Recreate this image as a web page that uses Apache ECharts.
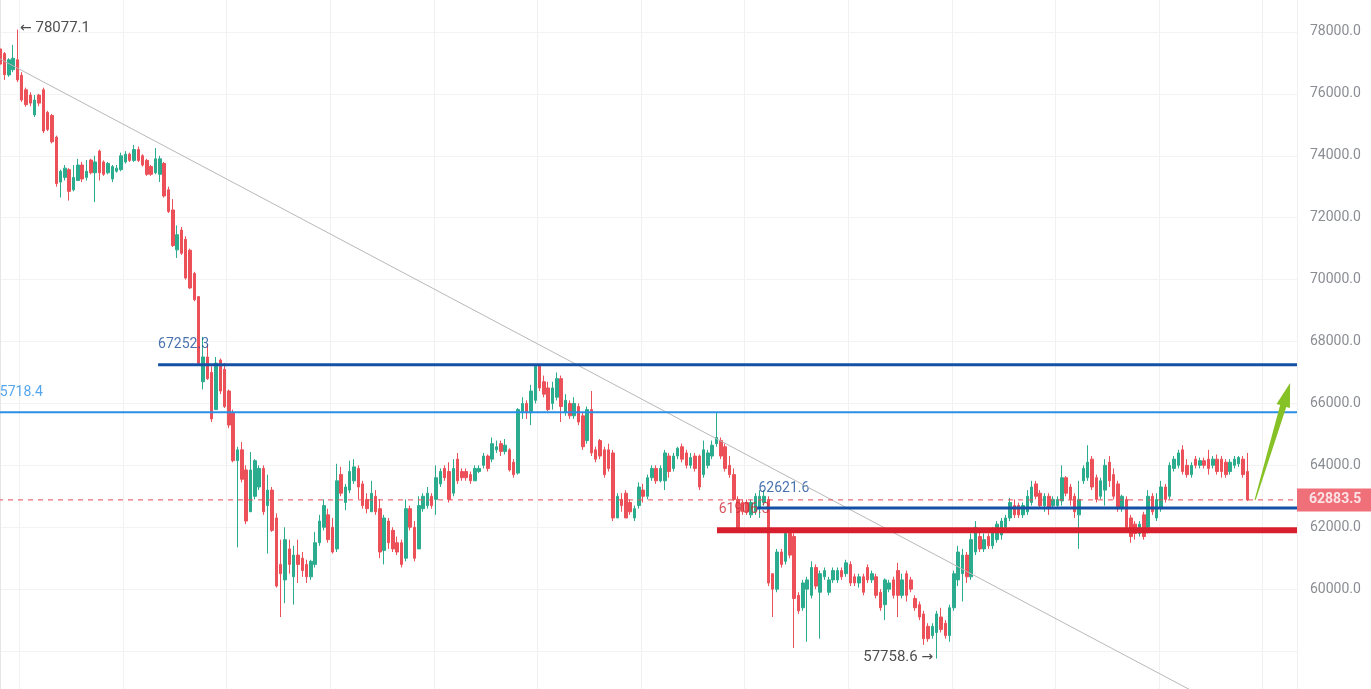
<!DOCTYPE html>
<html lang="en">
<head>
<meta charset="UTF-8">
<title>BTC</title>
<script src="https://cdn.jsdelivr.net/npm/echarts@6/dist/echarts.min.js"></script>
<style>
  html, body { margin: 0; padding: 0; background: #fff; }
  #main { width: 1371px; height: 689px; }
</style>
</head>
<body>
<div id="main"></div>
<script>
// свечи: open / close / low / high
const opens = [
  77450, 77300, 76610, 76780, 77100, 76600, 76130, 75960, 75320, 75960,
  76130, 75400, 75300, 74600, 73150, 73300, 73550, 72900, 73200, 73700,
  73300, 73860, 73450, 74150, 73800, 73450, 73250, 73500, 73550, 73800,
  74050, 73850, 74200, 74000, 73850, 73650, 73450, 73400, 73750, 72900,
  72250, 70960, 71600, 71300, 70950, 70200, 69450, 66700, 67500, 67000,
  65800, 67400, 67100, 66400, 65700,
  64150, 64500, 63850, 62500, 63000, 63300, 63900, 62700, 63200, 62300,
  60800, 60300, 61300, 60400, 61100, 61000, 60800, 60400, 60800, 61500,
  62000, 62400, 62000, 61300, 63700, 62800, 63200, 63500, 63900, 63400,
  62900, 62500, 63000, 62600, 61250, 62200, 61900, 61500, 61500, 61000,
  62600, 62000, 61300, 62600, 62700, 63000, 62900, 63400, 63900, 63800,
  63100, 64200, 63800, 63800,
  63700, 63500, 63800, 64000, 64300, 64200, 64500, 64700, 64450, 64500,
  64100, 63750, 65700, 66000, 65700, 66100, 67250, 66700, 66500, 66000,
  66200, 66800, 65700, 66000, 65600, 65900, 65600, 64800, 65800, 64500,
  64800, 64500, 64500, 64400, 62300, 62900, 63100, 62800, 62300, 62700,
  63200, 63000,
  63600, 63900, 63500, 63500, 64300, 63900, 64300, 64600, 64400, 64000,
  64300, 64300, 63700, 64000, 64300, 64700, 64800, 64600, 64000, 63700,
  62900, 62800, 62800, 62400, 62500, 62600, 62800, 62900, 60500, 60000,
  61200, 60900, 61800, 61700, 59800, 59400, 60000, 59800, 60700, 59900,
  60400, 59900, 60300, 60300, 60600, 60500, 60800,
  60400, 60200, 60400, 60700, 60300, 60400, 59900, 59500, 60000, 60300,
  60600, 59800, 60500, 60300, 59700, 59500, 59200, 58800, 58500, 58600,
  59100, 58900, 58500, 59400, 60300, 60500, 61100, 60400, 61200, 61700,
  61300, 61700, 61400, 61600, 61750, 62000, 62300, 62700, 62700, 62400,
  62500,
  62800, 63400, 63100, 62700, 63000, 62700, 62700, 62850, 63600, 63300,
  63000, 62400, 63500, 63600, 64200, 63600, 63000, 63200, 64100, 63700,
  63400, 62600, 62900, 62300, 62100, 61800, 62400, 61900, 63000, 62300,
  62600, 63300, 63000, 63900, 64000, 64500, 64000, 63700, 64200, 64000,
  64150, 64200, 64000, 64200, 64200, 64100, 63800, 64000, 64050, 64200,
  63800
];
const closes = [
  76960, 76620, 77100, 77150, 76450, 75800, 75650, 75700, 75800, 75700,
  74800, 74850, 74450, 73100, 73500, 73600, 72850, 73300, 73700, 73250,
  73500, 73450, 73800, 73450, 73400, 73750, 73650, 73600, 74000, 74050,
  73850, 74200, 73850, 73700, 73400, 73400, 73900, 73900, 72700, 72200,
  71100, 71450, 70850, 70050, 69730, 69350, 67300, 67500, 66800, 65500,
  67300, 66400, 65900, 65300, 64150,
  64500, 63550, 62200, 63850, 64150, 63900, 62500, 63200, 61900, 60100,
  60500, 61600, 60800, 61100, 60800, 60600, 60400, 60900, 61500, 62200,
  62700, 61600, 61200, 63500, 63100, 63300, 63800, 63950, 63300, 62700,
  62600, 63100, 62500, 61200, 62300, 61500, 61300, 61200, 60800, 62600,
  62000, 61000, 62700, 63000, 63100, 62700, 63600, 63800, 63600, 62900,
  63900, 63500, 63600, 63600,
  63500, 63900, 63900, 64300, 63900, 64700, 64600, 64450, 64650, 63850,
  63700, 65800, 66000, 65700, 66400, 67250, 66500, 66300, 65800, 66500,
  66800, 65900, 66100, 65600, 66000, 65400, 64600, 65800, 64400, 64200,
  64300, 63700, 63900, 62300, 63000, 62700, 62300, 62500, 62600, 63300,
  63000, 63600,
  63900, 63500, 63900, 64400, 63800, 64300, 64550, 64200, 64000, 64250,
  63900, 63300, 64500, 64400, 64650, 64900, 64300, 63900, 63700, 62900,
  61950, 62500, 62500, 62800, 63000, 63000, 63000, 60200, 60000, 61200,
  60800, 61800, 61100, 59700, 59300, 60200, 60300, 60700, 60100, 60500,
  60600, 60300, 60600, 60600, 60400, 60850, 60200,
  60200, 60400, 59900, 60300, 60500, 59800, 59400, 60300, 60200, 59800,
  59800, 60300, 59800, 60000, 59400, 59100, 58400, 58400, 58800, 59200,
  58700, 58500, 59400, 60500, 61200, 61100, 60400, 61600, 62000, 61300,
  61600, 61400, 61900, 62100, 62200, 62300, 62800, 62400, 62400, 62700,
  63000,
  63300, 63000, 62700, 63000, 62600, 62900, 62900, 63600, 63100, 62900,
  62500, 62900, 63900, 64100, 63300, 62900, 63500, 64000, 63500, 63000,
  62600, 63000, 62000, 61700, 61800, 62100, 61700, 63000, 62500, 62900,
  63300, 62900, 64000, 64200, 64400, 63800, 63700, 64000, 64000, 64150,
  64000, 63900, 64200, 63800, 63800, 63700, 64100, 64200, 64250, 63700,
  62883.5
];
const lows = [
  76800, 76450, 76550, 76700, 76380, 75740, 75580, 75600, 75250, 75600,
  74730, 74800, 74400, 73000, 72650, 73200, 72550, 72850, 73200, 73150,
  73200, 73400, 72500, 73200, 73350, 73400, 73150, 73450, 73500, 73750,
  73800, 73800, 73800, 73650, 73350, 73350, 73400, 73150, 72650, 72150,
  71050, 70700, 70800, 70000, 69700, 69300, 67250, 66450, 66760, 65400,
  65800, 66300, 65850, 65200, 64100,
  61350, 63450, 62100, 62500, 62900, 63200, 62400, 61150, 61850, 60050,
  59100, 59550, 60500, 59500, 60200, 60400, 60200, 60300, 60700, 61400,
  61900, 61500, 61150, 61200, 63000, 62550, 63100, 63400, 62900, 62600,
  62450, 62500, 62400, 61000, 60800, 61300, 61200, 61100, 60700, 60900,
  61900, 60900, 61300, 62500, 62600, 62600, 62400, 63300, 63500, 62800,
  63000, 63400, 63500, 63500,
  63400, 63500, 63750, 63900, 63800, 64100, 64400, 64300, 64350, 63800,
  63600, 63700, 65500, 65500, 65300, 66000, 66400, 66200, 65750, 65800,
  66100, 65400, 65600, 65500, 65500, 65300, 64500, 64700, 64300, 64100,
  64200, 63600, 63800, 62200, 62300, 62500, 62300, 62400, 62200, 62600,
  62800, 62900,
  63500, 63400, 63450, 63200, 63600, 63800, 64200, 64100, 63900, 63900,
  63800, 63200, 63600, 63900, 64200, 64600, 64200, 63800, 63600, 62850,
  61900, 62400, 62400, 62300, 62400, 62300, 62700, 60100, 59100, 59900,
  60700, 60800, 61000, 58100, 59200, 59300, 58300, 59700, 60000, 58400,
  60300, 59800, 60200, 60200, 60300, 60400, 60100,
  60100, 60050, 59800, 60200, 60200, 59700, 59300, 59000, 59900, 59700,
  59100, 59700, 59600, 59900, 59300, 59000, 58200, 58300, 58400, 57758.6,
  58600, 58400, 58300, 59300, 60100, 59600, 60200, 60300, 61100, 61200,
  61200, 61300, 61300, 61500, 61600, 61900, 62200, 62300, 62300, 62300,
  62400,
  62700, 62900, 62600, 62500, 62400, 62600, 62600, 62700, 63000, 62700,
  62300, 61300, 63400, 63500, 63200, 62800, 62900, 62700, 63300, 62900,
  62500, 62500, 61900, 61500, 61600, 61700, 61600, 61800, 62400, 62200,
  62500, 62800, 62900, 63800, 63900, 63700, 63600, 63600, 63900, 63900,
  63900, 63700, 63900, 63700, 63600, 63600, 63700, 63900, 63950, 63600,
  62850
];
const highs = [
  77550, 77350, 77150, 77580, 78077.1, 76700, 76200, 76050, 75960, 76000,
  76200, 75450, 75350, 74650, 73550, 73700, 73600, 73700, 73900, 73800,
  73860, 73900, 74000, 74200, 73850, 73800, 73700, 73700, 74100, 74150,
  74100, 74350, 74300, 74050, 73900, 73700, 74250, 74000, 73800, 73000,
  72600, 71750, 71700, 71400, 71000, 70250, 69450, 68150, 67900, 67200,
  67500, 67450, 67300, 66450, 65800,
  64600, 64750, 64000, 64430, 64200, 64000, 64000, 63700, 63300, 62450,
  61600, 62000, 61600, 61400, 61600, 61200, 60950, 60950, 61850, 62400,
  62900, 62600, 62300, 64050, 63950, 63400, 64150, 64200, 64000, 63500,
  63100, 63500, 63200, 62900, 62400, 62300, 62000, 61700, 61600, 62900,
  62700, 62200, 63000, 63100, 63300, 63100, 64000, 63900, 64000, 64100,
  64200, 64400, 63900, 63900,
  63800, 64000, 64000, 64400, 64350, 64900, 64800, 64800, 64850, 64550,
  64200, 65850, 66200, 66100, 66600, 67252.3, 67252.3, 66900, 66700, 66700,
  67000, 66900, 66300, 66100, 66200, 66000, 65700, 65900, 66400, 64600,
  64850, 64600, 64700, 64500, 63100, 63100, 63200, 62900, 62700, 63450,
  63400, 63700,
  64000, 64000, 64000, 64500, 64400, 64400, 64600, 64700, 64500, 64400,
  64400, 64350, 64800, 64500, 64800, 65700, 64900, 64700, 64300, 63900,
  63000, 62900, 62900, 62900, 63100, 63200, 63200, 63000, 60500, 61300,
  61300, 61900, 61900, 61800, 59900, 60300, 60400, 60900, 60800, 60600,
  60700, 60400, 60700, 60700, 60700, 60950, 60900,
  60500, 60500, 60500, 60800, 60600, 60500, 60000, 60350, 60300, 60400,
  60850, 60500, 60600, 60400, 59800, 59600, 59300, 58900, 58900, 59300,
  59400, 59000, 59500, 60600, 61400, 61300, 61200, 61800, 62200, 61900,
  61800, 61800, 62000, 62200, 62300, 62400, 62950, 62900, 62800, 62800,
  63200,
  63500, 63500, 63200, 63100, 63100, 63000, 63000, 64000, 63650, 63400,
  63100, 63500, 64000, 64650, 64300, 63700, 63600, 64200, 64300, 63900,
  63500, 63050, 63000, 62400, 62200, 62200, 62500, 63200, 63100, 63100,
  63500, 63400, 64100, 64300, 64500, 64650, 64200, 64100, 64300, 64250,
  64250, 64500, 64300, 64350, 64300, 64200, 64200, 64300, 64300, 64300,
  64400
];

const slotCount = 301;                 // места под свечи, справа пусто
const dayLines = [5, 29, 53, 77, 101, 125, 149, 173, 197, 221, 245, 269, 293];
const yTicks = [60000, 62000, 64000, 66000, 68000, 70000, 72000, 74000, 76000, 78000];

// уровни
const lastPrice = 62883.5;
const levelTop = 67252.3;
const levelMid = 65718.4;
const levelBlue = 62621.6;
const levelRed = 61906.3;
const levelStart = { top: 36.6, mid: -0.5, blue: 175.4, red: 166.1 };

// трендовая линия и стрелка
const trendX = [-0.5, 275.7];
const trendY = [77163, 56750];
const arrowX = [290.8, 298.9];
const arrowY = [62883.5, 66660];

const categories = [];
for (let i = 0; i < slotCount; i++) categories.push(String(i));

const candles = opens.map((o, i) => [o, closes[i], lows[i], highs[i]]);
const xEnd = slotCount - 0.5;

function hLine(value, x0, color, width, type) {
  return {
    type: 'line', xAxisIndex: 1, yAxisIndex: 0, silent: true,
    symbol: 'none', animation: false,
    data: [[x0, value], [xEnd, value]],
    lineStyle: { color: color, width: width, type: type || 'solid' }
  };
}

function textMark(x, y, text, pos, color, size) {
  return {
    type: 'scatter', xAxisIndex: 1, yAxisIndex: 0, silent: true, clip: false,
    symbolSize: 0, data: [[x, y]],
    label: {
      show: true, position: pos, distance: 0, formatter: text,
      color: color, fontSize: size || 14, fontFamily: 'Roboto, sans-serif',
      rich: {
        arr: { fontFamily: 'DejaVu Sans', fontSize: 14, color: color }
      }
    }
  };
}

const chart = echarts.init(document.getElementById('main'));

const option = {
  animation: false,
  backgroundColor: '#ffffff',
  grid: { left: -2, right: 74, top: -30, bottom: -24, outerBoundsMode: 'none', containLabel: false },
  xAxis: [
    {
      type: 'category', data: categories, boundaryGap: true,
      axisLine: { show: false }, axisTick: { show: false }, axisLabel: { show: false },
      splitLine: {
        show: true,
        interval: (idx) => dayLines.includes(idx),
        lineStyle: { color: '#f1f1f1', width: 1 }
      }
    },
    { type: 'value', min: -0.5, max: xEnd, show: false }
  ],
  yAxis: {
    type: 'value', position: 'right',
    min: 56000, max: 80000, interval: 2000,
    axisLine: { show: true, lineStyle: { color: '#e6e6e6' } },
    axisTick: { show: false },
    axisLabel: {
      margin: 13, color: '#8a8d93', fontSize: 14, fontFamily: 'Roboto, sans-serif',
      formatter: (v) => yTicks.includes(v) ? v.toFixed(1) : ''
    },
    splitLine: { lineStyle: { color: '#f3f3f3' } }
  },
  series: [
    {
      type: 'candlestick', data: candles, barWidth: 3,
      itemStyle: {
        color: '#2cac8e', color0: '#ec5058',
        borderColor: '#2cac8e', borderColor0: '#ec5058', borderWidth: 1
      }
    },
    {
      type: 'line', xAxisIndex: 1, yAxisIndex: 0, silent: true, symbol: 'none',
      data: [[trendX[0], trendY[0]], [trendX[1], trendY[1]]],
      lineStyle: { color: '#b8b8b8', width: 1 }
    },
    hLine(lastPrice, -0.5, '#ec4c58', 1, [5, 5]),
    hLine(levelMid, levelStart.mid, '#2b8fe6', 2),
    hLine(levelTop, levelStart.top, '#1450a3', 3),
    hLine(levelBlue, levelStart.blue, '#1450a3', 3),
    hLine(levelRed, levelStart.red, '#d71f2e', 6),
    textMark(levelStart.top, 67917, levelTop.toFixed(1), 'right', '#1a4d9a'),
    textMark(9.9, 66366, levelMid.toFixed(1), 'left', '#2b8fe6'),
    textMark(levelStart.blue + 0.3, 63264, levelBlue.toFixed(1), 'right', '#1a4d9a'),
    textMark(levelStart.red + 0.4, 62585, levelRed.toFixed(1), 'right', '#cc2a36'),
    textMark(4.6, 78110, '{arr|\u2190} 78077.1', 'right', '#222222', 15),
    textMark(216.2, 57790, '57758.6 {arr|\u2192}', 'left', '#222222', 15),
    {
      type: 'scatter', xAxisIndex: 1, yAxisIndex: 0, silent: true, clip: false,
      symbolSize: 0, data: [[xEnd, lastPrice]],
      label: {
        show: true, position: 'right', distance: 0,
        formatter: lastPrice.toFixed(1),
        color: '#ffffff', fontSize: 14, fontWeight: 'bold',
        fontFamily: 'Roboto, sans-serif',
        backgroundColor: '#ec4c58', padding: [4, 11, 4, 12], lineHeight: 15
      }
    }
  ]
};

chart.setOption(option);

// зелёная стрелка вверх
const a = chart.convertToPixel({ seriesIndex: 1 }, [arrowX[0], arrowY[0]]);
const b = chart.convertToPixel({ seriesIndex: 1 }, [arrowX[1], arrowY[1]]);
const dx = b[0] - a[0], dy = b[1] - a[1], len = Math.hypot(dx, dy);
const ux = dx / len, uy = dy / len, nx = -uy, ny = ux;
const headLen = 24, headHalf = 7, shaftEnd = 3.2, shaftStart = 0.6;
const hb = [b[0] - ux * headLen, b[1] - uy * headLen];
const pts = [
  [a[0] + nx * shaftStart, a[1] + ny * shaftStart],
  [hb[0] + nx * shaftEnd, hb[1] + ny * shaftEnd],
  [hb[0] + nx * headHalf, hb[1] + ny * headHalf],
  b,
  [hb[0] - nx * headHalf, hb[1] - ny * headHalf],
  [hb[0] - nx * shaftEnd, hb[1] - ny * shaftEnd],
  [a[0] - nx * shaftStart, a[1] - ny * shaftStart]
];
chart.setOption({
  graphic: [{ type: 'polygon', shape: { points: pts }, style: { fill: '#86c126' }, z: 10 }]
});
</script>
</body>
</html>
